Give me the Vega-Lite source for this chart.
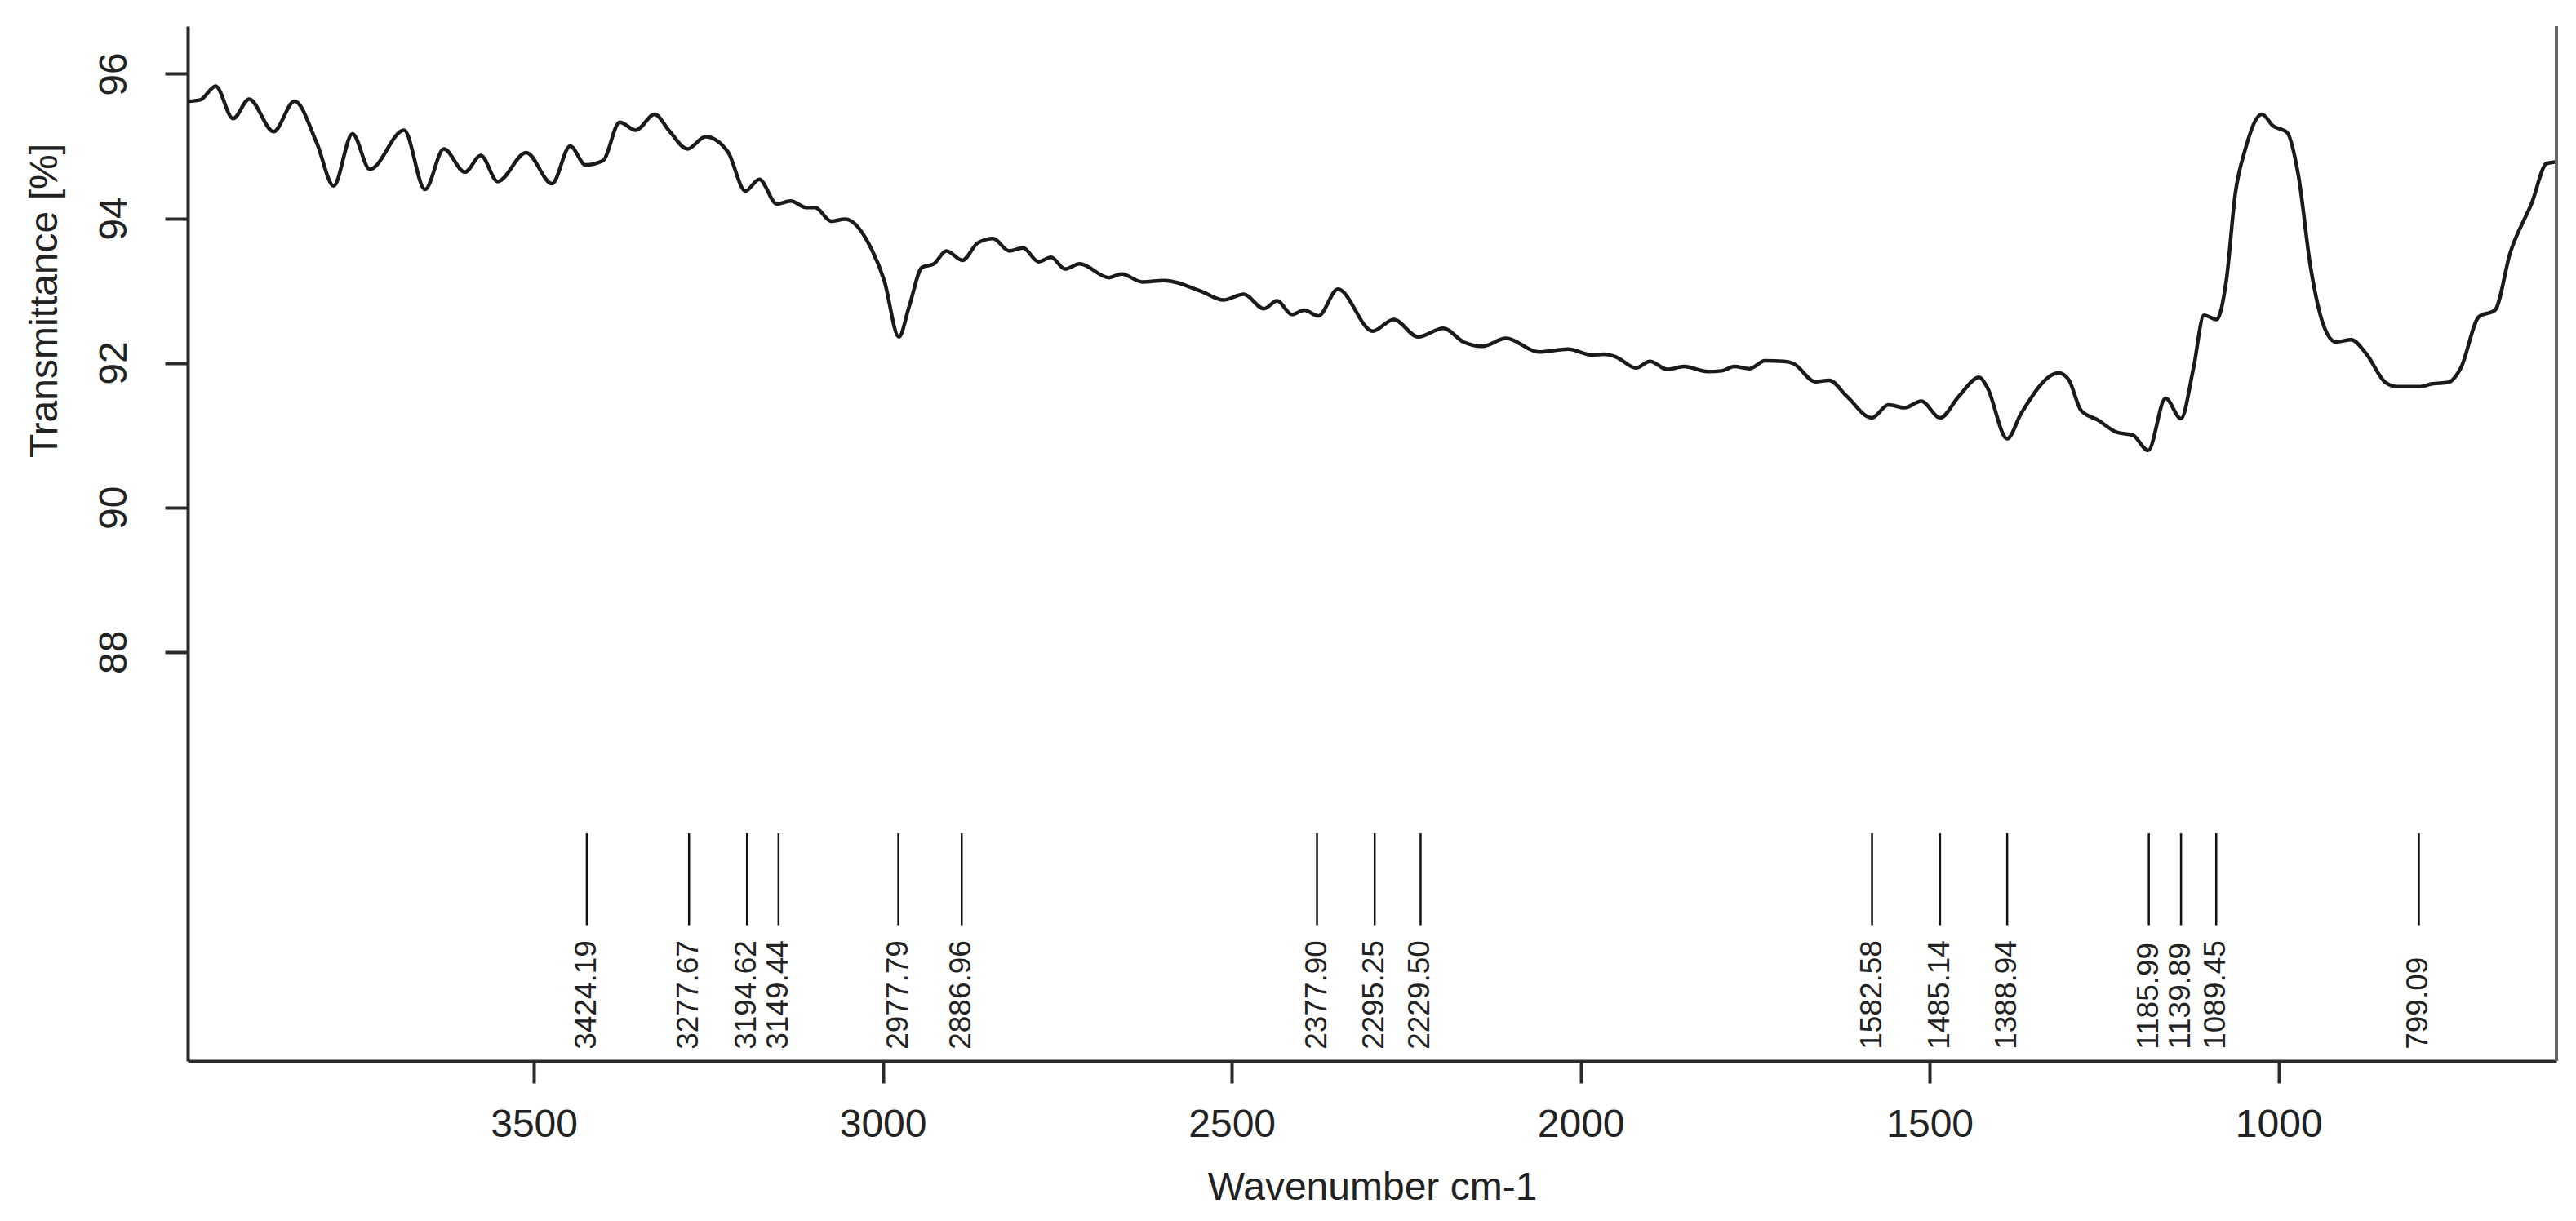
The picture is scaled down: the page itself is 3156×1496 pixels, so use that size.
{
  "$schema": "https://vega.github.io/schema/vega-lite/v6.json",
  "width": 2902,
  "height": 1268,
  "autosize": {"type": "none"},
  "padding": {"left": 230, "top": 32, "right": 24, "bottom": 196},
  "background": "white",
  "config": {
    "view": {"stroke": null},
    "font": "Liberation Sans",
    "axis": {
      "grid": false,
      "domainColor": "#2a2a2a",
      "domainWidth": 4,
      "tickColor": "#2a2a2a",
      "tickWidth": 4,
      "labelColor": "#222222",
      "titleColor": "#222222",
      "labelFontSize": 48,
      "titleFontSize": 48,
      "titleFontWeight": "normal",
      "labelFont": "Liberation Sans",
      "titleFont": "Liberation Sans"
    }
  },
  "datasets": {
    "spectrum": [
      {"wn": 3996, "t": 95.62}, {"wn": 3978, "t": 95.64}, {"wn": 3956, "t": 95.83}, {"wn": 3931, "t": 95.38},
      {"wn": 3908, "t": 95.65}, {"wn": 3873, "t": 95.20}, {"wn": 3843, "t": 95.62}, {"wn": 3811, "t": 95.04},
      {"wn": 3787, "t": 94.45}, {"wn": 3760, "t": 95.17}, {"wn": 3735, "t": 94.68}, {"wn": 3686, "t": 95.22},
      {"wn": 3656, "t": 94.40}, {"wn": 3629, "t": 94.96}, {"wn": 3599, "t": 94.64}, {"wn": 3576, "t": 94.87},
      {"wn": 3552, "t": 94.51}, {"wn": 3511, "t": 94.91}, {"wn": 3474, "t": 94.48}, {"wn": 3448, "t": 95.00},
      {"wn": 3426, "t": 94.74}, {"wn": 3401, "t": 94.80}, {"wn": 3377, "t": 95.33}, {"wn": 3354, "t": 95.22},
      {"wn": 3327, "t": 95.44}, {"wn": 3306, "t": 95.21}, {"wn": 3280, "t": 94.96}, {"wn": 3254, "t": 95.13},
      {"wn": 3222, "t": 94.92}, {"wn": 3197, "t": 94.38}, {"wn": 3177, "t": 94.54}, {"wn": 3152, "t": 94.20},
      {"wn": 3132, "t": 94.24}, {"wn": 3110, "t": 94.15}, {"wn": 3097, "t": 94.15}, {"wn": 3074, "t": 93.96},
      {"wn": 3054, "t": 93.99}, {"wn": 3016, "t": 93.57}, {"wn": 2998, "t": 93.14}, {"wn": 2977, "t": 92.36},
      {"wn": 2962, "t": 92.79}, {"wn": 2944, "t": 93.32}, {"wn": 2927, "t": 93.37}, {"wn": 2909, "t": 93.55},
      {"wn": 2886, "t": 93.42}, {"wn": 2864, "t": 93.66}, {"wn": 2842, "t": 93.72}, {"wn": 2819, "t": 93.55},
      {"wn": 2799, "t": 93.59}, {"wn": 2777, "t": 93.40}, {"wn": 2759, "t": 93.46}, {"wn": 2739, "t": 93.30},
      {"wn": 2718, "t": 93.37}, {"wn": 2676, "t": 93.18}, {"wn": 2658, "t": 93.23}, {"wn": 2628, "t": 93.12},
      {"wn": 2597, "t": 93.14}, {"wn": 2544, "t": 92.99}, {"wn": 2512, "t": 92.87}, {"wn": 2483, "t": 92.95},
      {"wn": 2454, "t": 92.75}, {"wn": 2435, "t": 92.86}, {"wn": 2414, "t": 92.67}, {"wn": 2396, "t": 92.73},
      {"wn": 2376, "t": 92.65}, {"wn": 2348, "t": 93.02}, {"wn": 2298, "t": 92.44}, {"wn": 2268, "t": 92.60},
      {"wn": 2233, "t": 92.36}, {"wn": 2197, "t": 92.48}, {"wn": 2168, "t": 92.29}, {"wn": 2141, "t": 92.23},
      {"wn": 2107, "t": 92.34}, {"wn": 2060, "t": 92.15}, {"wn": 2018, "t": 92.19}, {"wn": 1984, "t": 92.11},
      {"wn": 1966, "t": 92.12}, {"wn": 1949, "t": 92.08}, {"wn": 1921, "t": 91.93}, {"wn": 1901, "t": 92.02},
      {"wn": 1876, "t": 91.91}, {"wn": 1852, "t": 91.95}, {"wn": 1818, "t": 91.88}, {"wn": 1798, "t": 91.89},
      {"wn": 1780, "t": 91.95}, {"wn": 1758, "t": 91.92}, {"wn": 1736, "t": 92.03}, {"wn": 1709, "t": 92.02},
      {"wn": 1695, "t": 91.99}, {"wn": 1664, "t": 91.74}, {"wn": 1644, "t": 91.76}, {"wn": 1619, "t": 91.54},
      {"wn": 1583, "t": 91.24}, {"wn": 1559, "t": 91.42}, {"wn": 1536, "t": 91.38}, {"wn": 1512, "t": 91.47},
      {"wn": 1485, "t": 91.24}, {"wn": 1458, "t": 91.54}, {"wn": 1429, "t": 91.80}, {"wn": 1418, "t": 91.67},
      {"wn": 1389, "t": 90.95}, {"wn": 1369, "t": 91.30}, {"wn": 1315, "t": 91.86}, {"wn": 1301, "t": 91.77},
      {"wn": 1283, "t": 91.34}, {"wn": 1259, "t": 91.21}, {"wn": 1232, "t": 91.04}, {"wn": 1209, "t": 91.00},
      {"wn": 1187, "t": 90.79}, {"wn": 1162, "t": 91.51}, {"wn": 1140, "t": 91.23}, {"wn": 1122, "t": 91.93},
      {"wn": 1107, "t": 92.66}, {"wn": 1089, "t": 92.60}, {"wn": 1075, "t": 93.14}, {"wn": 1062, "t": 94.35},
      {"wn": 1048, "t": 94.95}, {"wn": 1024, "t": 95.44}, {"wn": 1008, "t": 95.28}, {"wn": 988, "t": 95.19},
      {"wn": 972, "t": 94.61}, {"wn": 954, "t": 93.31}, {"wn": 936, "t": 92.53}, {"wn": 918, "t": 92.29},
      {"wn": 896, "t": 92.32}, {"wn": 874, "t": 92.12}, {"wn": 847, "t": 91.73}, {"wn": 829, "t": 91.67},
      {"wn": 798, "t": 91.67}, {"wn": 780, "t": 91.71}, {"wn": 757, "t": 91.73}, {"wn": 739, "t": 91.93},
      {"wn": 713, "t": 92.64}, {"wn": 690, "t": 92.73}, {"wn": 668, "t": 93.53}, {"wn": 637, "t": 94.22},
      {"wn": 616, "t": 94.76}, {"wn": 602, "t": 94.78}
    ],
    "peaks": [
      {"wn": 3424.19, "label": "3424.19"}, {"wn": 3277.67, "label": "3277.67"}, {"wn": 3194.62, "label": "3194.62"},
      {"wn": 3149.44, "label": "3149.44"}, {"wn": 2977.79, "label": "2977.79"}, {"wn": 2886.96, "label": "2886.96"},
      {"wn": 2377.90, "label": "2377.90"}, {"wn": 2295.25, "label": "2295.25"}, {"wn": 2229.50, "label": "2229.50"},
      {"wn": 1582.58, "label": "1582.58"}, {"wn": 1485.14, "label": "1485.14"}, {"wn": 1388.94, "label": "1388.94"},
      {"wn": 1185.99, "label": "1185.99"}, {"wn": 1139.89, "label": "1139.89"}, {"wn": 1089.45, "label": "1089.45"},
      {"wn": 799.09, "label": "799.09"}
    ]
  },
  "layer": [
    {
      "data": {"name": "spectrum"},
      "mark": {"type": "line", "color": "#1a1a1a", "strokeWidth": 4.5, "interpolate": "monotone", "clip": true},
      "encoding": {
        "x": {
          "field": "wn", "type": "quantitative",
          "scale": {"domain": [602, 3996], "reverse": true, "nice": false, "zero": false},
          "axis": {
            "title": "Wavenumber cm-1",
            "values": [3500, 3000, 2500, 2000, 1500, 1000],
            "format": "d",
            "tickSize": 27,
            "labelPadding": 27,
            "labelBaseline": "top",
            "titleY": 155,
            "titleBaseline": "middle"
          }
        },
        "y": {
          "field": "t", "type": "quantitative",
          "scale": {"domain": [82.34, 96.66], "nice": false, "zero": false},
          "axis": {
            "title": "Transmittance [%]",
            "values": [88, 90, 92, 94, 96],
            "format": "d",
            "tickSize": 28,
            "labelAngle": -90,
            "labelAlign": "center",
            "labelBaseline": "alphabetic",
            "labelPadding": 48,
            "titleAngle": -90,
            "titleX": -175,
            "titleY": 336,
            "titleAlign": "center",
            "titleBaseline": "middle"
          }
        }
      }
    },
    {
      "data": {"name": "peaks"},
      "mark": {"type": "rule", "color": "#111111", "strokeWidth": 2.5},
      "encoding": {
        "x": {"field": "wn", "type": "quantitative", "title": "Wavenumber cm-1"},
        "y": {"datum": 85.49, "type": "quantitative", "title": "Transmittance [%]"},
        "y2": {"datum": 84.22}
      }
    },
    {
      "data": {"name": "peaks"},
      "mark": {"type": "text", "angle": 270, "align": "left", "baseline": "middle", "fontSize": 37, "color": "#222222", "font": "Liberation Sans"},
      "encoding": {
        "x": {"field": "wn", "type": "quantitative", "title": "Wavenumber cm-1"},
        "y": {"datum": 82.5, "type": "quantitative", "title": "Transmittance [%]"},
        "text": {"field": "label"}
      }
    },
    {
      "data": {"values": [{}]},
      "mark": {"type": "rule", "color": "#666666", "strokeWidth": 4},
      "encoding": {
        "x": {"datum": 602, "type": "quantitative", "title": "Wavenumber cm-1"},
        "y": {"datum": 96.66, "type": "quantitative", "title": "Transmittance [%]"},
        "y2": {"datum": 82.34}
      }
    }
  ]
}
